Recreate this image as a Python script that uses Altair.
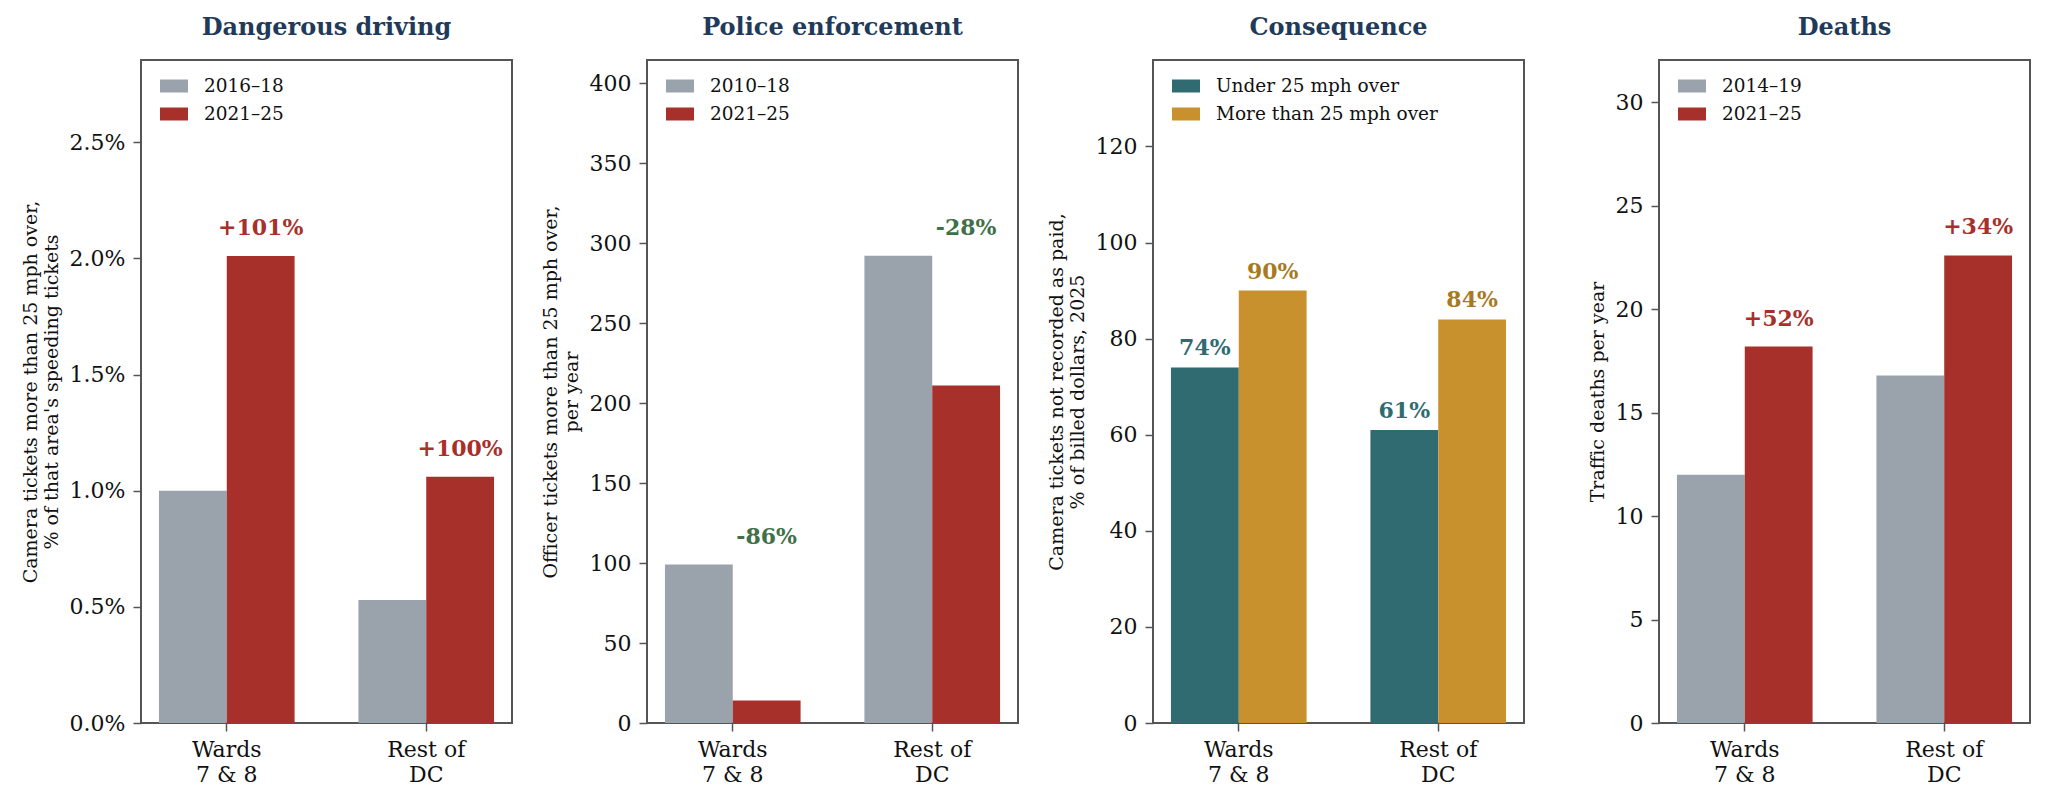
import altair as alt
import pandas as pd

FONT = "DejaVu Serif"

# ---- shared categories ----
regions = ["Wards|7 & 8", "Rest of|DC"]

# ---- panel 1: Dangerous driving ----
p1_title = "Dangerous driving"
p1_ytitle = ["Camera tickets more than 25 mph over,", "% of that area's speeding tickets"]
p1_series = ["2016–18", "2021–25"]
p1_early = [1.00, 0.53]
p1_late = [2.01, 1.06]
p1_labels = ["+101%", "+100%"]
p1_ticks = [0.0, 0.5, 1.0, 1.5, 2.0, 2.5]
p1_ymax = 2.854

# ---- panel 2: Police enforcement ----
p2_title = "Police enforcement"
p2_ytitle = ["Officer tickets more than 25 mph over,", "per year"]
p2_series = ["2010–18", "2021–25"]
p2_early = [99, 292]
p2_late = [14, 211]
p2_labels = ["-86%", "-28%"]
p2_ticks = [0, 50, 100, 150, 200, 250, 300, 350, 400]
p2_ymax = 414.4

# ---- panel 3: Consequence ----
p3_title = "Consequence"
p3_ytitle = ["Camera tickets not recorded as paid,", "% of billed dollars, 2025"]
p3_series = ["Under 25 mph over", "More than 25 mph over"]
p3_early = [74, 61]
p3_late = [90, 84]
p3_labels_early = ["74%", "61%"]
p3_labels_late = ["90%", "84%"]
p3_ticks = [0, 20, 40, 60, 80, 100, 120]
p3_ymax = 138.0

# ---- panel 4: Deaths ----
p4_title = "Deaths"
p4_ytitle = "Traffic deaths per year"
p4_series = ["2014–19", "2021–25"]
p4_early = [12.0, 16.8]
p4_late = [18.2, 22.6]
p4_labels = ["+52%", "+34%"]
p4_ticks = [0, 5, 10, 15, 20, 25, 30]
p4_ymax = 32.05

# ---- colours ----
GRAY = "#9AA3AB"
RED = "#A8302B"
TEAL = "#2F6B70"
GOLD = "#C8912D"
GOLD_TEXT = "#A87A1E"
GREEN = "#3F7048"
NAVY = "#1F3A5A"


def bar_df(series, early, late):
    rows = []
    for i, r in enumerate(regions):
        rows.append({"region": r, "series": series[0], "value": early[i]})
        rows.append({"region": r, "series": series[1], "value": late[i]})
    return pd.DataFrame(rows)


def panel(title, ytitle, series, early, late, colors, ymax, ticks, ann, dy, pct_fmt=False):
    df = bar_df(series, early, late)
    xenc = alt.X(
        "region:N",
        sort=regions,
        scale=alt.Scale(paddingInner=0.32, paddingOuter=0.09),
        axis=alt.Axis(
            title=None,
            labelAngle=0,
            labelExpr="split(datum.label, '|')",
            labelFont=FONT,
            labelFontSize=22,
            labelLineHeight=25,
            labelPadding=8,
            labelColor="#111111",
            tickSize=8,
            tickWidth=1.5,
            tickColor="#555555",
            domain=False,
        ),
    )
    xoff = alt.XOffset("series:N", sort=series, scale=alt.Scale(paddingInner=0, paddingOuter=0))
    yaxis = alt.Axis(
        title=ytitle,
        titleFont=FONT,
        titleFontSize=19,
        titleFontWeight="normal",
        titleColor="#111111",
        titleLineHeight=21,
        titlePadding=8,
        values=ticks,
        labelFont=FONT,
        labelFontSize=22,
        labelColor="#111111",
        labelPadding=8,
        tickSize=8,
        tickWidth=1.5,
        tickColor="#555555",
        domain=False,
        grid=False,
        labelExpr=("format(datum.value, '.1f') + '%'" if pct_fmt else "format(datum.value, 'd')"),
    )
    yenc = alt.Y("value:Q", scale=alt.Scale(domain=[0, ymax], nice=False, zero=True), axis=yaxis)
    bars = alt.Chart(df).mark_bar(strokeWidth=0).encode(
        x=xenc,
        xOffset=xoff,
        y=yenc,
        color=alt.Color(
            "series:N",
            sort=series,
            scale=alt.Scale(domain=series, range=colors),
            legend=alt.Legend(
                title=None,
                orient="none",
                legendX=19,
                legendY=12,
                direction="vertical",
                symbolType="M-1,-0.464H1V0.464H-1Z",
                symbolSize=784,
                symbolStrokeWidth=0,
                symbolOpacity=1,
                labelFont=FONT,
                labelFontSize=18.5,
                labelColor="#111111",
                labelOffset=16,
                labelLimit=500,
                rowPadding=4,
                padding=0,
            ),
        ),
    )
    text = alt.Chart(pd.DataFrame(ann)).mark_text(
        font=FONT, fontSize=22, fontWeight="bold", align="center", baseline="alphabetic", dy=dy
    ).encode(
        x=alt.X("region:N", sort=regions),
        xOffset=alt.XOffset("series:N", sort=series),
        y=alt.Y("y:Q"),
        text="label:N",
        fill=alt.Fill("tcolor:N", scale=None, legend=None),
    )
    return alt.layer(bars, text).properties(
        width=371,
        height=663,
        title=alt.TitleParams(
            title, font=FONT, fontSize=24, fontWeight="bold", color=NAVY, anchor="middle", offset=20
        ),
    )


def change_ann(series, early, late, labels, color):
    return {
        "region": regions,
        "series": [series[1], series[1]],
        "y": [max(e, l) for e, l in zip(early, late)],
        "label": labels,
        "tcolor": [color, color],
    }


ann1 = change_ann(p1_series, p1_early, p1_late, p1_labels, RED)
ann2 = change_ann(p2_series, p2_early, p2_late, p2_labels, GREEN)
ann4 = change_ann(p4_series, p4_early, p4_late, p4_labels, RED)
ann3 = {
    "region": regions + regions,
    "series": [p3_series[0]] * 2 + [p3_series[1]] * 2,
    "y": p3_early + p3_late,
    "label": p3_labels_early + p3_labels_late,
    "tcolor": [TEAL] * 2 + [GOLD_TEXT] * 2,
}

c1 = panel(p1_title, p1_ytitle, p1_series, p1_early, p1_late, [GRAY, RED], p1_ymax, p1_ticks, ann1, -21, pct_fmt=True)
c2 = panel(p2_title, p2_ytitle, p2_series, p2_early, p2_late, [GRAY, RED], p2_ymax, p2_ticks, ann2, -21)
c3 = panel(p3_title, p3_ytitle, p3_series, p3_early, p3_late, [TEAL, GOLD], p3_ymax, p3_ticks, ann3, -12)
c4 = panel(p4_title, p4_ytitle, p4_series, p4_early, p4_late, [GRAY, RED], p4_ymax, p4_ticks, ann4, -21)

chart = (
    alt.hconcat(c1, c2, c3, c4, spacing=135, bounds="flush")
    .resolve_scale(color="independent", y="independent", x="independent", xOffset="independent")
    .configure(background="white", padding={"left": 12, "top": 7, "right": 5, "bottom": 5})
    .configure_view(stroke="#555555", strokeWidth=2)
)

chart.save("out.html", embed_options={"renderer": "svg", "actions": False})
